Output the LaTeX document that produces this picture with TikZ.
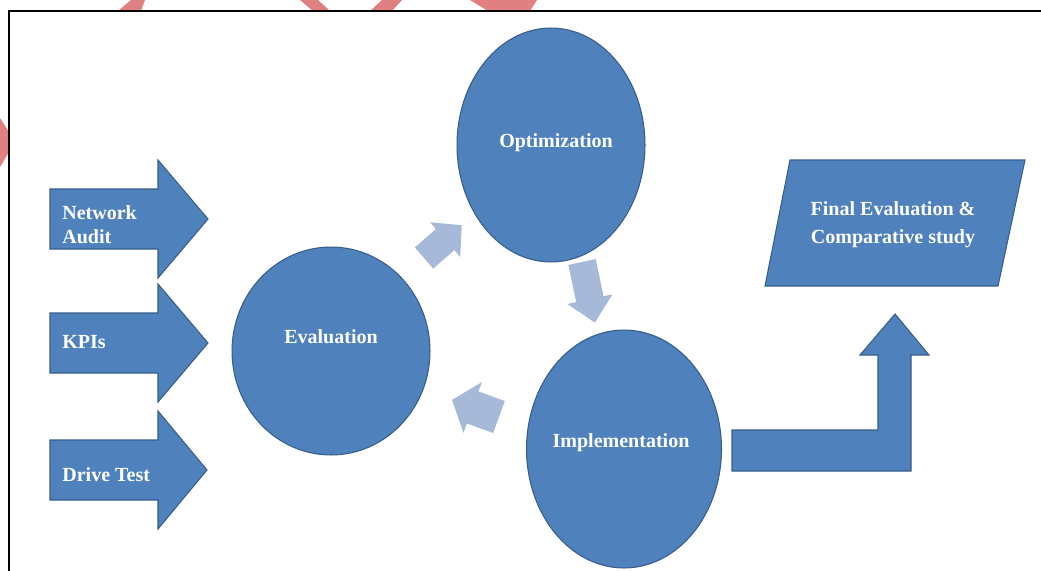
\documentclass[tikz,border=0pt]{standalone}
\usepackage{fontspec}
\setmainfont{Liberation Serif}
\usetikzlibrary{shapes.geometric}

\begin{document}
\begin{tikzpicture}[x=0.02cm,y=-0.02cm,
  blob/.style={ellipse,draw=kEdge,fill=kBlue,line width=0.6pt,inner sep=0pt},
  blockshape/.style={draw=kEdge,fill=kBlue,line width=0.6pt,line join=miter},
  cyclearrow/.style={fill=kLight},
  txt/.style={text=white,inner sep=0pt,font=\bfseries\fontsize{11.4}{13.7}\selectfont}]
  \definecolor{kBlue}{RGB}{79,129,189}
  \definecolor{kEdge}{RGB}{56,93,138}
  \definecolor{kLight}{RGB}{167,185,216}
  \definecolor{kRed}{RGB}{224,128,128}

  \useasboundingbox[fill=white] (0,0) rectangle (1041,571);

  % watermark in the margin
  \fill[kRed] (118,11) -- (131,0) -- (145,0) -- (141,11) -- cycle;
  \fill[kRed] (300,0) -- (318,0) -- (330,11) -- (313,11) -- cycle;
  \fill[kRed] (382,0) -- (402,0) -- (392,11) -- (370,11) -- cycle;
  \fill[kRed] (470,0) -- (537,0) -- (530,11) -- (488,11) -- cycle;
  \fill[kRed] (0,118) -- (9,132) -- (9,152) -- (0,167) -- cycle;

  \draw[line width=1.4pt] (9,571) -- (9,11) -- (1041,11);

  % inputs
  \draw[blockshape] (50,189) -- (158,189) -- (158,160) -- (208,219) -- (158,278) -- (158,249) -- (50,249) -- cycle;
  \draw[blockshape] (50,313) -- (158,313) -- (158,284) -- (208,343) -- (158,402) -- (158,373) -- (50,373) -- cycle;
  \draw[blockshape] (50,440) -- (158,440) -- (158,411) -- (207,470) -- (158,529) -- (158,500) -- (50,500) -- cycle;
  \node[txt,anchor=west,align=left] (audit) at (62,225) {Network\\Audit};
  \node[txt,anchor=west] (kpis) at (62,342) {KPIs};
  \node[txt,anchor=west] (drive) at (62,475) {Drive Test};

  % cycle
  \node[blob,minimum width=3.96cm,minimum height=4.16cm] (eval) at (331,351) {};
  \node[blob,minimum width=3.76cm,minimum height=4.68cm] (opt) at (551,145) {};
  \node[blob,minimum width=3.9cm,minimum height=4.76cm] (impl) at (624,449) {};
  \node[txt] (evaltxt) at (331,337) {Evaluation};
  \node[txt] (opttxt) at (556,143) {Optimization};
  \node[txt] (impltxt) at (621,443) {Implementation};

  \fill[cyclearrow,shift={(424,258)},rotate=41] (0,-14) -- (28,-14) -- (28,-23) -- (50,0) -- (28,23) -- (28,14) -- (0,14) -- cycle;
  \fill[cyclearrow,shift={(582,262)},rotate=-78] (0,-14) -- (38,-14) -- (38,-23) -- (62,0) -- (38,23) -- (38,14) -- (0,14) -- cycle;
  \fill[cyclearrow,shift={(499,417)},rotate=160] (0,-17) -- (28,-17) -- (28,-27) -- (50,0) -- (28,27) -- (28,17) -- (0,17) -- cycle;

  % output
  \draw[blockshape] (732,430) -- (878,430) -- (878,355) -- (860,355) -- (895,314) -- (929,355) -- (911,355) -- (911,471) -- (732,471) -- cycle;
  \draw[blockshape] (790,160) -- (1025,160) -- (998,286) -- (765,286) -- cycle;
  \node[txt,align=center,font=\bfseries\fontsize{11.4}{16}\selectfont] (final) at (893,225) {Final Evaluation \&\\Comparative study};

\end{tikzpicture}
\end{document}
